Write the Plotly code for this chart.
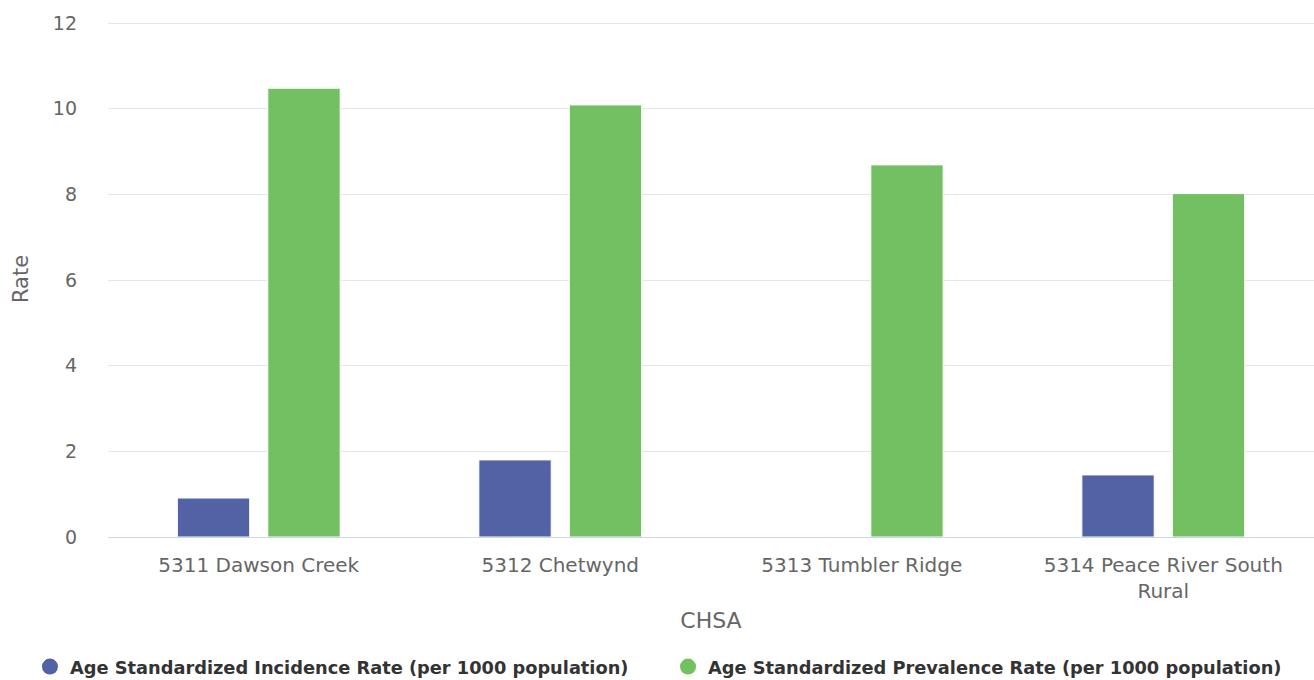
import plotly.graph_objects as go

categories = ["5311 Dawson Creek", "5312 Chetwynd", "5313 Tumbler Ridge", "5314 Peace River South Rural"]
tick_labels = ["5311 Dawson Creek", "5312 Chetwynd", "5313 Tumbler Ridge", "5314 Peace River South<br>Rural"]
incidence = [0.91, 1.80, None, 1.45]
prevalence = [10.48, 10.09, 8.69, 8.02]
series_names = ["Age Standardized Incidence Rate (per 1000 population)",
                "Age Standardized Prevalence Rate (per 1000 population)"]
colors = ["#5362a5", "#73c063"]
legend_ids = ["legend", "legend2"]
y_ticks = [0, 2, 4, 6, 8, 10, 12]

FONT = "DejaVu Sans"

fig = go.Figure()
for name, vals, col in zip(series_names, [incidence, prevalence], colors):
    fig.add_trace(go.Bar(x=categories, y=vals, name=name,
                         marker=dict(color=col, line=dict(color="white", width=1)),
                         showlegend=False))
for name, col, lid in zip(series_names, colors, legend_ids):
    fig.add_trace(go.Scatter(x=[None], y=[None], mode="markers", name=name, legend=lid,
                             marker=dict(color=col, size=16, symbol="circle")))

legend_font = dict(family=FONT, size=17.8, color="#333333", weight="bold")
fig.update_layout(
    width=1314, height=680,
    margin=dict(l=108, r=0, t=21, b=143),
    paper_bgcolor="white", plot_bgcolor="white",
    barmode="group", bargap=0.4, bargroupgap=0.2,
    font=dict(family=FONT, color="#666666", size=16),
    legend=dict(orientation="h", xref="container", yref="container",
                x=0.0228, xanchor="left", y=0.0191, yanchor="middle",
                font=legend_font, itemsizing="trace", bgcolor="rgba(0,0,0,0)"),
    legend2=dict(orientation="h", xref="container", yref="container",
                 x=0.5084, xanchor="left", y=0.0191, yanchor="middle",
                 font=legend_font, itemsizing="trace", bgcolor="rgba(0,0,0,0)"),
    xaxis=dict(tickmode="array", tickvals=categories, ticktext=tick_labels,
               showline=True, linecolor="#ccd6eb", linewidth=1, showgrid=False,
               ticks="", tickfont=dict(size=20, color="#666666"), automargin=False,
               ticklabelstandoff=10,
               title=dict(text="CHSA", font=dict(size=22, color="#666666"), standoff=10)),
    yaxis=dict(range=[0, 12.05], tickvals=y_ticks, showgrid=True,
               gridcolor="#e6e6e6", gridwidth=1,
               zeroline=False, showline=False, ticks="", tickfont=dict(size=19, color="#666666"),
               ticklabelstandoff=30, automargin=False,
               title=dict(text="Rate", font=dict(size=21, color="#666666"), standoff=18)),
)

fig.write_html("out.html", config={"displayModeBar": False},
               post_script="document.body.style.margin='0';document.body.style.overflow='hidden';")
